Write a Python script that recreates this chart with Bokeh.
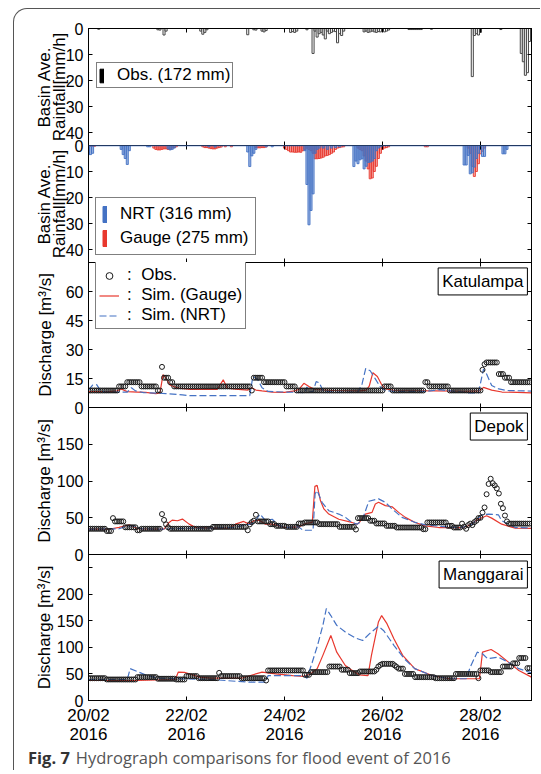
from bokeh.plotting import figure
from bokeh.layouts import column
from bokeh.models import Range1d, LinearAxis, FixedTicker, Legend, LegendItem, Label, Span, Div
from bokeh.embed import file_html
from bokeh.resources import INLINE

FONT = "Liberation Sans"
BLUE = "#4472c4"
RED = "#e8382e"
GREY = "#444444"

# ---------------- data (x in hours since 20/02/2016 00:00) ----------------
x_ticks = [0, 48, 96, 144, 192]
x_tick_labels = ["20/02\n2016", "22/02\n2016", "24/02\n2016", "26/02\n2016", "28/02\n2016"]

# basin averaged observed rainfall (mm/h)
obs_rain_h = [5, 34, 35, 37, 38, 55, 56, 57, 58, 78, 81, 82, 85, 86, 87, 99, 100, 101, 102, 107,
              110, 111, 112, 113, 114, 115, 116, 117, 118, 119, 120, 121, 122, 123, 124, 125,
              135, 136, 137, 138, 139, 140, 141, 142, 143, 144, 145, 146, 147,
              157, 158, 159, 160, 161, 162, 163, 168, 188, 189, 190, 191, 192, 202,
              212, 213, 214, 215, 216]
obs_rain_v = [0.3, 0.5, 0.6, 2.5, 1.0, 1.0, 2.2, 1.5, 0.5, 2.4, 0.5, 0.6, 1.0, 1.3, 0.8, 1.5, 1.2, 1.5, 1.0, 0.5,
              9.6, 1.0, 3.3, 2.0, 1.5, 2.5, 4.0, 1.0, 2.0, 1.5, 1.0, 1.2, 5.5, 2.0, 2.7, 1.0,
              1.3, 1.0, 1.5, 1.3, 1.0, 1.3, 1.5, 1.2, 1.3, 0.5, 1.3, 1.0, 0.6,
              0.4, 0.4, 0.4, 0.4, 0.4, 0.4, 0.4, 0.3, 18.5, 2.7, 2.0, 2.5, 1.5, 0.4,
              9.6, 12.8, 18.0, 17.0, 5.0]

# NRT satellite rainfall (mm/h)
nrt_rain_h = [0, 1, 2, 16, 17, 18, 19, 20, 29, 30, 39, 40, 41, 42, 59, 62, 78, 79, 80, 81, 82, 87, 90,
              106, 107, 108, 109, 110, 111, 112, 113, 115, 117, 119, 121, 123,
              130, 131, 132, 133, 134, 135, 136, 137, 138, 139, 140, 141, 142, 143,
              184, 185, 186, 187, 188, 189, 190, 191, 192, 193, 194, 203, 204, 205]
nrt_rain_v = [3.5, 3.5, 3.0, 1.5, 3.5, 5.0, 7.3, 2.0, 0.5, 0.5, 1.3, 1.7, 1.5, 1.0, 0.5, 0.6, 2.5, 8.1, 4.0, 3.0, 1.5, 0.5, 0.5,
              2.0, 15.0, 30.5, 25.0, 18.6, 3.0, 1.5, 1.0, 1.0, 1.5, 1.0, 0.8, 0.5,
              8.1, 6.0, 7.0, 5.5, 5.1, 9.0, 8.0, 6.5, 6.4, 6.0, 5.0, 2.0, 1.0, 0.5,
              7.5, 7.5, 3.8, 10.9, 10.5, 8.3, 5.0, 3.0, 1.5, 4.2, 4.2, 3.2, 3.2, 1.5]

# Gauge rainfall (mm/h)
gauge_rain_h = [0, 1, 2, 3, 32, 33, 34, 35, 36, 37, 38, 39, 40, 41, 42, 43,
                56, 57, 58, 59, 60, 61, 62, 63, 64, 65, 67, 70, 82, 83, 84, 85, 86, 87,
                96, 97, 98, 99, 100, 101, 102, 103, 104, 105, 106, 107, 108, 109, 110,
                111, 112, 113, 114, 115, 116, 117, 118, 119, 120, 121, 122, 123, 124, 125,
                132, 133, 134, 135, 136, 137, 138, 139, 140, 141, 142, 143, 144, 145, 146, 147,
                165, 166, 186, 187, 188, 189, 190, 191, 192, 193, 194]
gauge_rain_v = [0.3, 0.3, 0.3, 0.3, 1.0, 1.5, 1.7, 1.7, 1.5, 1.3, 1.3, 1.5, 1.5, 1.0, 0.8, 0.5,
                0.5, 0.8, 0.8, 1.0, 1.2, 1.3, 1.3, 1.0, 0.8, 0.6, 0.5, 0.5, 0.8, 0.9, 0.9, 0.8, 0.8, 0.6,
                1.0, 1.5, 2.0, 2.5, 2.5, 2.6, 2.6, 2.5, 2.6, 2.0, 1.5, 1.0, 1.5, 2.0, 3.0,
                5.1, 5.1, 5.0, 4.8, 4.5, 4.0, 3.8, 3.5, 3.0, 2.5, 1.5, 1.0, 0.8, 0.6, 0.5,
                1.0, 1.5, 2.0, 4.0, 6.0, 9.0, 12.8, 12.5, 10.0, 8.0, 5.0, 3.0, 1.5, 1.0, 0.8, 0.5,
                0.5, 0.5, 1.0, 3.0, 8.0, 11.9, 10.0, 7.0, 3.2, 2.2, 1.0]

# Katulampa observed discharge, hourly (m3/s)
kat_obs = [
    8.8, 8.8, 8.8, 8.8, 8.8, 8.8, 8.8, 8.8, 8.8, 8.8, 8.8, 8.8, 8.8, 8.8, 8.8, 10.9, 10.9, 10.9, 10.9, 13.1, 13.1, 13.1, 13.1, 13.1,
    13.1, 13.1, 10.9, 10.9, 10.9, 10.9, 10.9, 10.9, 10.9, 10.9, 8.8, 8.8, 21.0, 15.4, 15.4, 15.4, 13.1, 13.1, 10.9, 10.9, 10.9, 10.9, 10.9, 10.9,
    10.9, 10.9, 10.9, 10.9, 10.9, 10.9, 10.9, 10.9, 10.9, 10.9, 10.9, 10.9, 10.9, 10.9, 10.9, 10.9, 10.9, 10.9, 10.9, 10.9, 10.9, 10.9, 10.9, 10.9,
    10.9, 10.9, 10.9, 10.9, 10.9, 10.9, 10.9, 10.9, 8.8, 15.4, 15.4, 15.4, 15.4, 15.4, 13.1, 13.1, 13.1, 13.1, 13.1, 13.1, 13.1, 13.1, 13.1, 13.1,
    13.1, 10.9, 10.9, 10.9, 10.9, 10.9, 8.8, 8.8, 8.8, 8.8, 8.8, 8.8, 8.8, 8.8, 8.8, 8.8, 8.8, 8.8, 8.8, 8.8, 8.8, 8.8, 8.8, 8.8,
    8.8, 8.8, 8.8, 8.8, 8.8, 8.8, 8.8, 8.8, 8.8, 8.8, 8.8, 8.8, 8.8, 8.8, 8.8, 8.8, 8.8, 8.8, 8.8, 8.8, 8.8, 8.8, 8.8, 8.8,
    8.8, 10.9, 10.9, 10.9, 10.9, 8.8, 8.8, 8.8, 8.8, 8.8, 8.8, 8.8, 8.8, 8.8, 8.8, 8.8, 8.8, 8.8, 8.8, 8.8, 8.8, 13.1, 13.1, 10.9,
    10.9, 10.9, 10.9, 10.9, 10.9, 10.9, 10.9, 10.9, 10.9, 8.8, 8.8, 8.8, 8.8, 8.8, 8.8, 8.8, 8.8, 8.8, 8.8, 8.8, 8.8, 8.8, 8.8, 8.8,
    8.8, 19.5, 22.4, 23.3, 23.3, 23.3, 23.3, 23.3, 23.3, 17.3, 17.3, 17.3, 15.4, 15.4, 15.4, 13.1, 13.1, 13.1, 13.1, 13.1, 13.1, 13.1, 13.1, 13.1,
    13.1]
kat_gauge_t = [0, 10, 14, 16, 19, 24, 28, 33, 35, 36.5, 38, 40, 44, 50, 63, 66, 68, 72, 78, 80, 82, 85, 90, 96,
               101, 103, 105.5, 108, 111, 120, 133, 136, 137.5, 139.3, 141.5, 143.5, 145.5, 150, 170, 185,
               191.5, 193.5, 197.5, 202.5, 210, 217]
kat_gauge_v = [8.2, 8.2, 8.6, 9.6, 8.2, 8.0, 7.8, 7.2, 7.6, 17.0, 15.0, 11.5, 10.0, 9.3, 9.3, 14.3, 10.0, 9.5, 9.0, 10.2, 9.0, 8.6, 8.0, 7.8,
               8.6, 9.3, 12.5, 10.8, 9.3, 8.8, 8.6, 9.0, 11.0, 18.0, 16.0, 12.0, 9.6, 8.8, 8.6, 8.4,
               8.6, 10.4, 9.0, 8.0, 7.8, 7.6]
kat_nrt_t = [0, 2, 4, 6, 8, 19, 21, 23, 27, 34, 38, 46, 50, 79, 80.5, 81.5, 83, 85, 88, 96,
             104, 106, 107, 108, 110, 111.5, 113, 115, 120, 132, 134, 135.8, 138, 140.5, 143, 145.5, 150,
             165, 172, 186, 191, 193.5, 195, 197.5, 201, 205, 217]
kat_nrt_v = [9.0, 11.6, 11.8, 8.6, 8.0, 8.0, 10.2, 8.6, 7.7, 7.4, 7.2, 6.5, 6.1, 6.1, 16.0, 15.5, 14.2, 10.2, 8.3, 8.0,
             7.8, 7.7, 10.6, 8.0, 8.3, 13.4, 12.8, 8.5, 8.0, 8.0, 12.2, 20.2, 19.0, 14.8, 10.5, 8.8, 8.3,
             8.3, 9.2, 7.6, 7.6, 19.9, 17.3, 11.4, 9.6, 8.8, 8.5]

# Depok observed discharge, hourly (m3/s)
dep_obs = [
    35, 35, 35, 35, 35, 35, 35, 35, 35, 32, 32, 32, 49.5, 45, 45, 45, 45, 45, 37, 37, 37, 37, 37, 37,
    33, 33, 35, 35, 35, 35, 35, 35, 35, 35, 35, 35, 55, 47, 41, 37, 35, 35, 35, 35, 35, 35, 35, 35,
    35, 35, 35, 35, 35, 35, 35, 35, 35, 35, 35, 35, 35, 37.6, 37.6, 37.6, 37.6, 37.6, 37.6, 37.6, 37.6, 37.6, 37.6, 37.6,
    37.6, 37.6, 37.6, 37.6, 37.6, 37.6, 33, 41, 44, 46, 54, 45, 45, 45, 45, 45, 45, 41.3, 41.3, 41.3, 39, 39, 39, 39,
    39, 37.6, 37.6, 37.6, 37.6, 37.6, 37.6, 42.2, 42.2, 42.2, 43.6, 43.6, 43.6, 43.6, 43.6, 43.6, 43.6, 41.3, 41.3, 41.3, 41.3, 41.3, 41.3, 41.3,
    41.3, 41.3, 41.3, 37.6, 37.6, 37.6, 37.6, 37.6, 37.6, 37.6, 37.6, 34, 49.5, 49.5, 49.5, 49.5, 49.5, 49.5, 45.9, 45.9, 45.9, 42.2, 42.2, 42.2,
    42.2, 42.2, 39, 39, 39, 39, 39, 36.7, 36.7, 36.7, 36.7, 36.7, 36.7, 36.7, 36.7, 36.7, 36.7, 36.7, 36.7, 36.7, 34.4, 34.4, 43.6, 43.6,
    43.6, 43.6, 43.6, 43.6, 43.6, 43.6, 43.6, 43.6, 39, 39, 39, 36.7, 36.7, 36.7, 36.7, 42, 38, 35, 40, 42, 40, 44, 46, 49.5,
    50, 57, 64, 82, 96, 103, 97, 94, 90, 83, 69, 63, 53, 45, 42, 42, 42, 42, 42, 42, 42, 42, 42, 42,
    42]
dep_gauge_t = [0, 10, 15, 20, 24, 37, 39.5, 41, 43.6, 46, 49.3, 52.5, 60, 68.8, 72, 76, 78.6, 81, 83.5, 86.7, 90, 96.5,
               103, 106.3, 109.6, 110.9, 112, 113.6, 115.3, 117.7, 122.6, 129, 131.5, 132.5, 135.6, 138.9, 140.5,
               142.1, 145.4, 148.7, 151.9, 155.2, 160, 165, 171.5, 183, 186, 191, 195, 197.5, 202.4, 209, 217]
dep_gauge_v = [34.4, 34.4, 37, 40.4, 35, 34.4, 43.6, 46.8, 45.9, 48.2, 41.3, 36.7, 35.8, 35.8, 41.3, 45, 41.3, 45.9, 46.8, 41.3, 41.3, 36.7,
               37.6, 42.2, 43.6, 92.7, 94, 73.4, 62, 55, 48, 43.6, 41.3, 43, 55, 57.3, 68.8,
               71, 66.5, 65, 57.3, 50.5, 43.6, 39, 36.7, 36.7, 39, 48, 52.8, 49.5, 41.3, 35.8, 35.5]
dep_nrt_t = [0, 15, 19, 22, 25, 37, 40, 50, 60, 72, 76, 79, 81, 84, 86.7, 90, 93, 96.5, 103, 105, 110, 111, 112,
             114.4, 117.7, 122.6, 125.9, 129, 131.5, 134, 137.3, 142.1, 145.4, 148.7, 153.6, 160, 165, 175, 183,
             187.8, 192.6, 195.9, 200.8, 202.4, 209, 217]
dep_nrt_v = [34.4, 35, 39, 39, 35, 34.4, 35, 35.8, 35.8, 37, 40, 41, 43, 55, 46, 48, 40, 37, 37.6, 33, 33, 82.6, 87,
             71, 59.6, 55, 50.5, 43.6, 41.3, 46, 72.5, 75.7, 71, 62, 50.5, 43.6, 40.4, 37.6, 36.7,
             41.3, 54, 55, 54, 46, 36.7, 36]

# Manggarai observed discharge, hourly (m3/s)
man_obs = [
    42, 42, 42, 42, 42, 42, 42, 42, 42, 39.6, 39.6, 39.6, 39.6, 39.6, 39.6, 39.6, 39.6, 39.6, 39.6, 39.6, 39.6, 39.6, 39.6, 39.6,
    44, 44, 44, 44, 44, 44, 44, 44, 44, 44, 41, 41, 41, 41, 41, 41, 41, 41, 41, 39.6, 39.6, 39.6, 39.6, 39.6,
    46, 46, 46, 46, 46, 46, 42, 42, 42, 42, 42, 42, 42, 42, 42, 42, 52, 46, 46, 46, 46, 46, 46, 46,
    46, 46, 46, 42, 42, 42, 42, 42, 42, 42, 42, 42, 42, 42, 42, 37.7, 56.6, 56.6, 56.6, 56.6, 56.6, 56.6, 56.6, 56.6,
    56.6, 56.6, 56.6, 56.6, 56.6, 56.6, 56.6, 56.6, 56.6, 56.6, 48.4, 48.4, 48.4, 53.5, 53.5, 53.5, 53.5, 53.5, 53.5, 53.5, 53.5, 53.5, 64, 64,
    64, 64, 64, 64, 58, 58, 58, 58, 51.6, 51.6, 51.6, 51.6, 51.6, 54.7, 54.7, 54.7, 54.7, 54.7, 54.7, 54.7, 54.7, 58, 64, 67,
    69, 69, 69, 69, 69, 69, 66, 63, 60, 60, 60, 50, 50, 50, 50, 50, 44, 44, 44, 44, 44, 44, 44, 44,
    44, 44, 42, 42, 42, 42, 42, 42, 42, 42, 42, 42, 50, 50, 50, 50, 50, 50, 50, 50, 50, 50, 50, 42,
    56.6, 56.6, 56.6, 56.6, 56.6, 53.5, 53.5, 53.5, 53.5, 53.5, 53.5, 64, 64, 64, 64, 64, 70, 70, 70, 80, 80, 80, 80, 61,
    61]
man_gauge_t = [0, 23.8, 42.5, 44, 47, 54.4, 60, 75, 85, 91.8, 100, 105.4, 108.8, 112, 114.8, 118.7, 121.6, 125.8,
               129.2, 132.6, 136.9, 138.6, 142, 143.6, 146.2, 149.6, 153.9, 159.8, 168.3, 176.8, 190.4, 191.5,
               193, 197.2, 200.6, 205.7, 210.8, 217]
man_gauge_v = [37.7, 37.7, 39.6, 53.5, 53, 44, 42, 42, 53.5, 50, 47, 45.3, 50, 60, 85, 122.6, 91, 66,
               56.6, 48.4, 47, 85, 147.8, 160, 144.7, 116.4, 85, 60, 47, 41, 41, 41,
               91, 96, 88, 72.3, 56.6, 44]
man_nrt_t = [0, 19, 20.4, 23.8, 28.9, 34, 60, 78, 86.7, 88, 91.8, 105.4, 107, 109.6, 112.2, 114.8, 116.5, 118.7,
             121.6, 125.8, 130.9, 134.3, 137.7, 142, 144.5, 149.6, 154.7, 159.8, 168.3, 176.8, 185, 187,
             190.4, 193, 195.5, 200.6, 205.7, 210.8, 217]
man_nrt_v = [39.6, 39.6, 60, 54.7, 47, 42, 39.6, 34.6, 34.6, 47, 47, 47, 42, 72, 104, 141.5, 173, 160,
             141.5, 129, 117.6, 113, 126, 139.6, 132, 104, 78.6, 60, 47, 41, 41, 63,
             91, 88, 78.6, 81.8, 72, 60, 52]

# ---------------- figure helpers ----------------
x_rng = Range1d(0, 217)
FIG_W = 526


def style_axis(ax, size="16px"):
    ax.major_tick_in = 4
    ax.major_tick_out = 0
    ax.minor_tick_line_color = None
    ax.axis_line_color = "black"
    ax.major_tick_line_color = "black"
    ax.major_label_text_font = FONT
    ax.major_label_text_font_size = size
    ax.major_label_text_color = "black"


def hide_labels(ax):
    ax.major_label_text_color = None
    ax.major_label_text_font_size = "1px"
    ax.major_label_standoff = 0


def panel(y_range, ticks, frame_h, ylabel, lab_standoff, top=8, bottom=8, xlabels=False,
          overrides=None, shift=-16, line_h=1.2):
    p = figure(width=FIG_W, height=top + frame_h + bottom, x_range=x_rng, y_range=y_range,
               output_backend="svg", toolbar_location=None,
               min_border_left=74, min_border_right=FIG_W - 74 - 443,
               min_border_top=top, min_border_bottom=bottom)
    p.margin = (shift, 0, 0, 0)
    p.grid.grid_line_color = None
    p.outline_line_color = "black"
    p.background_fill_color = "white"
    p.border_fill_alpha = 0
    ya = p.yaxis[0]
    ya.ticker = FixedTicker(ticks=ticks)
    style_axis(ya)
    ya.major_label_standoff = 5
    if overrides:
        ya.major_label_overrides = overrides
    ya.axis_label = ylabel
    ya.axis_label_text_font = FONT
    ya.axis_label_text_font_size = "17px"
    ya.axis_label_text_font_style = "normal"
    ya.axis_label_text_color = "black"
    ya.axis_label_text_line_height = line_h
    ya.axis_label_standoff = lab_standoff
    xa = p.xaxis[0]
    xa.ticker = FixedTicker(ticks=x_ticks)
    style_axis(xa)
    if xlabels:
        xa.major_label_overrides = dict(zip(x_ticks, x_tick_labels))
        xa.major_label_standoff = 5
        xa.major_label_text_font_size = "17px"
        xa.major_label_text_line_height = 1.0
    else:
        hide_labels(xa)
    ta = LinearAxis(ticker=FixedTicker(ticks=x_ticks))
    style_axis(ta)
    hide_labels(ta)
    p.add_layout(ta, "above")
    ra = LinearAxis(ticker=FixedTicker(ticks=ticks))
    style_axis(ra)
    hide_labels(ra)
    p.add_layout(ra, "right")
    return p


def legend(items, loc, gw, gh, standoff, spacing, padding, lh):
    return Legend(items=items, location=loc, glyph_width=gw, glyph_height=gh, label_standoff=standoff,
                  spacing=spacing, padding=padding, label_height=lh, margin=0,
                  border_line_color="black", border_line_width=1, background_fill_color="white",
                  background_fill_alpha=1.0, label_text_font=FONT, label_text_font_size="17px",
                  label_text_color="black")


def station(p, x, y, name):
    p.add_layout(Label(x=x, y=y, text=name, text_align="right", text_baseline="middle",
                       text_font=FONT, text_font_size="17px", text_color="black",
                       border_line_color="black", border_line_width=1,
                       background_fill_color="white", padding=4))


RAIN_LABEL = "Basin Ave.\nRainfall[mm/h]"
Q_LABEL = "Discharge [m\u00b3/s]"

# ---------------- panel 1 : observed rainfall ----------------
p1 = panel(Range1d(45, 0), [0, 10, 20, 30, 40], 117, RAIN_LABEL, -6, top=19, shift=0, line_h=0.8)
p1.vbar(x=obs_rain_h, top=obs_rain_v, bottom=0, width=1, fill_color="white", line_color=GREY, line_width=1)
obs_proxy = p1.vbar(x=obs_rain_h[:1], top=[0], bottom=[0], width=1, fill_color="black", line_color="black")
p1.add_layout(legend([LegendItem(label="Obs. (172 mm)", renderers=[obs_proxy])], (8, 57), 5, 17, 13, 0, 2, 17))

# ---------------- panel 2 : NRT and gauge rainfall ----------------
p2 = panel(Range1d(45, 0), [0, 10, 20, 30, 40], 117, RAIN_LABEL, -6, line_h=0.8)
p2.vbar(x=gauge_rain_h, top=gauge_rain_v, bottom=0, width=1, fill_color=RED, fill_alpha=0.45,
        line_color=RED, line_width=0.9)
p2.vbar(x=nrt_rain_h, top=nrt_rain_v, bottom=0, width=1, fill_color=BLUE, fill_alpha=0.55,
        line_color=BLUE, line_width=0.9)
p2.add_layout(Span(location=0, dimension="width", line_color=BLUE, line_width=1.5))
nrt_proxy = p2.vbar(x=nrt_rain_h[:1], top=[0], bottom=[0], width=1, fill_color=BLUE, line_color=BLUE)
gau_proxy = p2.vbar(x=gauge_rain_h[:1], top=[0], bottom=[0], width=1, fill_color=RED, line_color=RED)
p2.add_layout(legend([LegendItem(label="NRT (316 mm)", renderers=[nrt_proxy]),
                      LegendItem(label="Gauge (275 mm)", renderers=[gau_proxy])],
                     (7, 7), 5, 20, 13, 4, 6, 20))


# ---------------- discharge panels ----------------
def discharge(p, obs, gt, gv, nt, nv):
    r_g = p.line(gt, gv, line_color=RED, line_width=1.2)
    r_n = p.line(nt, nv, line_color=BLUE, line_width=1.2, line_dash="7 3")
    r_o = p.scatter(list(range(len(obs))), obs, marker="circle", size=5, fill_color=None,
                    line_color="#1a1a1a", line_width=1)
    return r_o, r_g, r_n


p3 = panel(Range1d(0, 75), [0, 15, 30, 45, 60], 145, Q_LABEL, 8)
r_o, r_g, r_n = discharge(p3, kat_obs, kat_gauge_t, kat_gauge_v, kat_nrt_t, kat_nrt_v)
NB = "\u00a0"
p3.add_layout(legend([LegendItem(label=":" + NB * 2 + "Obs.", renderers=[r_o]),
                      LegendItem(label=":" + NB * 2 + "Sim. (Gauge)", renderers=[r_g]),
                      LegendItem(label=":" + NB * 2 + "Sim. (NRT)", renderers=[r_n])],
                     (7, 78), 20, 17, 8, 0, 3, 17))
station(p3, 215.0, 65.2, "Katulampa")

p4 = panel(Range1d(0, 200), [0, 50, 100, 150], 147, Q_LABEL, 0)
discharge(p4, dep_obs, dep_gauge_t, dep_gauge_v, dep_nrt_t, dep_nrt_v)
station(p4, 215.0, 174.1, "Depok")

p5 = panel(Range1d(0, 275), [0, 50, 100, 150, 200, 250], 146, Q_LABEL, 0, bottom=46,
           xlabels=True, overrides={250: ""})
discharge(p5, man_obs, man_gauge_t, man_gauge_v, man_nrt_t, man_nrt_v)
station(p5, 215.0, 237.3, "Manggarai")

# ---------------- caption ----------------
cap = Div(text='<span style="font-weight:700;color:#333333;margin-right:6px">Fig. 7</span>'
               'Hydrograph comparisons for flood event of 2016',
          width=FIG_W - 14, height=24, margin=(0, 0, 0, 14),
          styles={"font-family": "'Open Sans', sans-serif", "font-size": "16.5px",
                  "color": "#555555", "line-height": "24px", "white-space": "nowrap"})

layout = column(p1, p2, p3, p4, p5, cap, spacing=0, margin=(8, 0, 0, 13),
                styles={"border-left": "1px solid #555", "border-top": "1px solid #555",
                        "border-top-left-radius": "14px"})

open("out.html", "w").write(file_html(layout, INLINE))
